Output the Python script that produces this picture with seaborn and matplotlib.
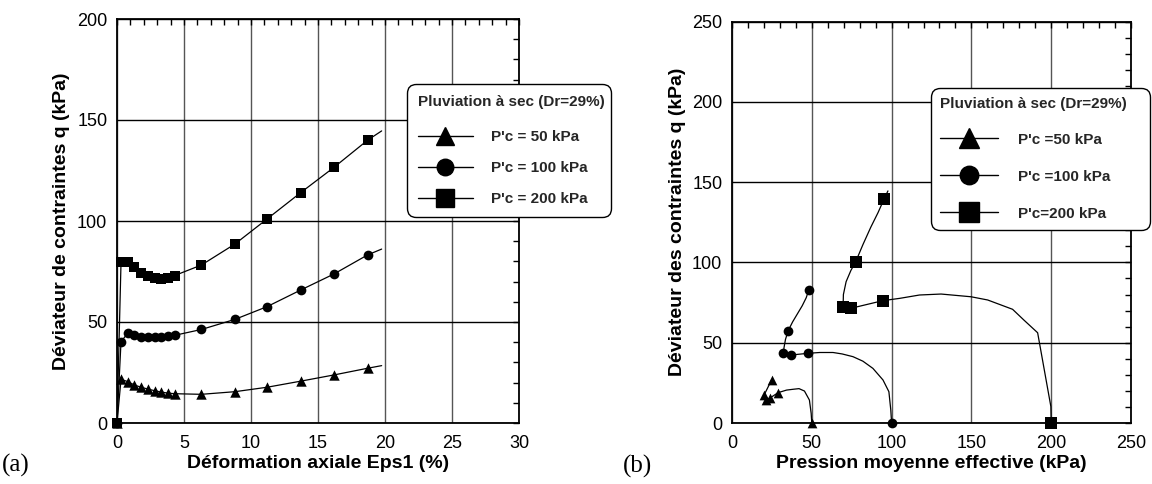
import numpy as np
import pandas as pd
import matplotlib
matplotlib.use("Agg")
import matplotlib.pyplot as plt
from matplotlib.lines import Line2D
from matplotlib.ticker import MultipleLocator
import seaborn as sns

# ---------------- data : panel (a) q vs axial strain ----------------
eps_pts = [0, 0.3, 0.8, 1.3, 1.8, 2.3, 2.8, 3.3, 3.8, 4.3, 6.3, 8.8, 11.2, 13.7, 16.2, 18.7]
q50_pts = [0, 21.6, 20.5, 18.8, 17.7, 16.8, 16.0, 15.3, 14.8, 14.5, 14.2, 15.5, 17.7, 20.7, 23.8, 27.1]
q100_pts = [0, 40.3, 44.4, 43.4, 42.8, 42.5, 42.5, 42.8, 43.1, 43.4, 46.3, 51.3, 57.6, 65.8, 73.8, 83.2]
q200_pts = [0, 79.5, 79.6, 77.0, 74.5, 72.8, 71.8, 71.5, 71.8, 73.0, 78.2, 88.6, 101.0, 114.0, 126.6, 140.0]
eps_end = 19.75
q50_end, q100_end, q200_end = 28.4, 86.1, 144.6

# ---------------- data : panel (b) stress paths q vs p' ----------------
p50_path = [50, 49.6, 48.5, 45.4, 42.0, 38.3, 34.2, 28.9, 23.7, 21.5, 20.0, 24.8]
q50_path = [0, 6.0, 14.3, 19.9, 21.4, 21.0, 20.5, 18.9, 15.5, 14.3, 17.2, 26.8]
mk50 = [0, 7, 8, 9, 10, 11]

p100_path = [100, 99.5, 98.3, 94.6, 88.3, 82.0, 75.8, 69.0, 63.3, 55.0, 47.7, 36.7, 32.1,
             32.6, 33.5, 35.2, 38.0, 41.0, 44.0, 46.5, 48.1, 49.0]
q100_path = [0, 8.0, 19.5, 26.8, 34.0, 38.5, 41.3, 43.0, 43.9, 43.9, 43.4, 42.3, 43.4,
             47.0, 52.0, 57.5, 63.0, 68.0, 73.0, 78.0, 82.8, 85.0]
mk100 = [0, 10, 11, 12, 15, 20]

p200_path = [200, 199.8, 191.5, 183.0, 175.8, 160.2, 149.8, 131.0, 117.5, 105.0, 94.6, 74.4, 69.6,
             69.8, 71.5, 74.5, 77.5, 82.0, 87.0, 91.5, 95.2, 97.7]
q200_path = [0, 10.2, 56.2, 64.0, 70.8, 76.6, 78.6, 80.3, 79.7, 77.6, 76.2, 71.4, 72.4,
             80.0, 88.0, 95.0, 100.4, 111.0, 122.0, 131.0, 139.3, 144.5]
mk200 = [0, 10, 11, 12, 16, 20]

legend_title = "Pluviation à sec (Dr=29%)"
labels_a = ["P'c = 50 kPa", "P'c = 100 kPa", "P'c = 200 kPa"]
labels_b = ["P'c =50 kPa", "P'c =100 kPa", "P'c=200 kPa"]
markers = ["^", "o", "s"]

xlabel_a = "Déformation axiale Eps1 (%)"
ylabel_a = "Déviateur de contraintes q (kPa)"
xlabel_b = "Pression moyenne effective (kPa)"
ylabel_b = "Déviateur des contraintes q (kPa)"

# ---------------- style ----------------
sns.set_theme(style="white")
plt.rcParams["font.family"] = ["Liberation Sans", "DejaVu Sans"]
plt.rcParams["axes.edgecolor"] = "black"

W, H = 1152, 484
fig = plt.figure(figsize=(W / 100, H / 100), dpi=100)
ax1 = fig.add_axes([117 / W, 1 - 423 / H, (519 - 117) / W, (423 - 19) / H])
ax2 = fig.add_axes([732 / W, 1 - 423 / H, (1131 - 732) / W, (423 - 21.5) / H])


def style_axes(ax, xmax, ymax, xmaj, xmin, ymaj, ymin):
    ax.set_xlim(0, xmax)
    ax.set_ylim(0, ymax)
    ax.xaxis.set_major_locator(MultipleLocator(xmaj))
    ax.xaxis.set_minor_locator(MultipleLocator(xmin))
    ax.yaxis.set_major_locator(MultipleLocator(ymaj))
    ax.yaxis.set_minor_locator(MultipleLocator(ymin))
    ax.set_axisbelow(True)
    ax.grid(False)
    ax.grid(which="major", axis="x", color="#555555", lw=1.0)
    ax.grid(which="major", axis="y", color="black", lw=1.0)
    ax.tick_params(which="both", direction="in", top=True, right=True,
                   length=4, width=1, color="black")
    ax.tick_params(axis="x", labelsize=13, pad=9, colors="black")
    ax.tick_params(axis="y", labelsize=13, pad=7, colors="black")
    for s in ax.spines.values():
        s.set_visible(True)
        s.set_color("black")
        s.set_linewidth(1.3)


style_axes(ax1, 30, 200, 5, 1, 50, 10)
style_axes(ax2, 250, 250, 50, 10, 50, 10)

ms_a = {"^": 7.5, "o": 7.0, "s": 7.5}
ms_b = {"^": 7.0, "o": 7.0, "s": 9.0}

# panel (a)
for qs, qe, m in zip([q50_pts, q100_pts, q200_pts], [q50_end, q100_end, q200_end], markers):
    xs = eps_pts + [eps_end]
    ys = qs + [qe]
    sns.lineplot(x=xs, y=ys, ax=ax1, sort=False, estimator=None, color="black", lw=0.9)
    sns.scatterplot(x=eps_pts, y=qs, ax=ax1, marker=m, s=ms_a[m] ** 2, color="black",
                    linewidth=0, zorder=3, clip_on=False)

# panel (b)
for ps, qs, mk, m in zip([p50_path, p100_path, p200_path], [q50_path, q100_path, q200_path],
                         [mk50, mk100, mk200], markers):
    sns.lineplot(x=ps, y=qs, ax=ax2, sort=False, estimator=None, color="black", lw=0.9)
    sns.scatterplot(x=[ps[i] for i in mk], y=[qs[i] for i in mk], ax=ax2, marker=m,
                    s=ms_b[m] ** 2, color="black", linewidth=0, zorder=3, clip_on=False)

lab_font = dict(fontsize=14, fontweight="bold", color="black")
ax1.set_xlabel(xlabel_a, labelpad=2, **lab_font)
ax1.set_ylabel(ylabel_a, labelpad=5, **lab_font)
ax2.set_xlabel(xlabel_b, labelpad=2, **lab_font)
ax2.set_ylabel(ylabel_b, labelpad=4, **lab_font)


def make_handles(scale):
    return [Line2D([], [], color="black", lw=1.0, marker=m, markersize=ms * scale)
            for m, ms in zip(markers, [7.5, 7.0, 7.5])]


leg_common = dict(loc="upper left", bbox_transform=fig.transFigure, mode="expand",
                  frameon=True, fancybox=True, edgecolor="black", facecolor="white",
                  framealpha=1, prop={"weight": "bold", "size": 11},
                  title_fontproperties={"weight": "bold", "size": 11},
                  alignment="left", borderaxespad=0, numpoints=1)

leg1 = ax1.legend(make_handles(1.7), labels_a, title=legend_title,
                  bbox_to_anchor=(407 / W, 0, (611 - 407) / W, 1 - 84 / H),
                  handlelength=3.6, handletextpad=1.2, labelspacing=1.11, borderpad=0.7,
                  **leg_common)
leg1._legend_box.sep = 15.5
leg1.get_frame().set_linewidth(1.0)
leg1.get_frame().set_boxstyle("round", pad=0, rounding_size=0.6)
leg1.set_zorder(10)

leg2 = ax2.legend(make_handles(1.9), labels_b, title=legend_title,
                  bbox_to_anchor=(931 / W, 0, (1150 - 931) / W, 1 - 88 / H),
                  handlelength=3.8, handletextpad=1.3, labelspacing=1.5, borderpad=0.6,
                  **leg_common)
leg2._legend_box.sep = 15.5
leg2.get_frame().set_linewidth(1.0)
leg2.get_frame().set_boxstyle("round", pad=0, rounding_size=0.6)
leg2.set_zorder(10)

fig.text(2 / W, 1 - 465 / H, "(a)", family=["Liberation Serif", "DejaVu Serif"],
         fontsize=18, va="center", ha="left", color="black")
fig.text(623 / W, 1 - 466 / H, "(b)", family=["Liberation Serif", "DejaVu Serif"],
         fontsize=18, va="center", ha="left", color="black")

fig.savefig("out.png", dpi=100)
